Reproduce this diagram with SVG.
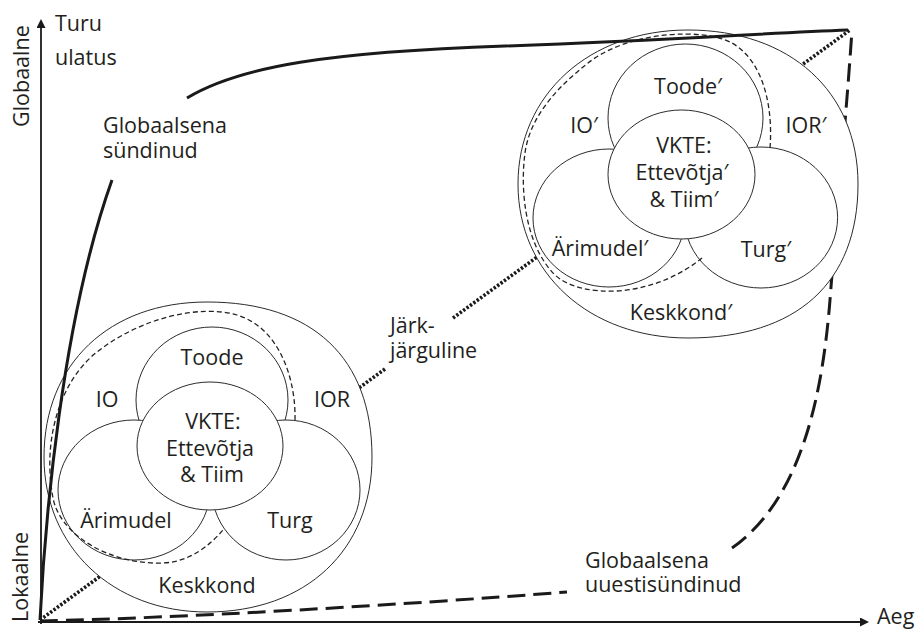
<svg xmlns="http://www.w3.org/2000/svg" width="921" height="630" viewBox="0 0 921 630">
  <defs>
    <style>
      .t { font-family: "Open Sans", "Noto Sans", sans-serif; font-size: 21.5px; fill: #231f20; }
      .m { text-anchor: middle; }
      .c { fill: #fff; stroke: #2b2b2b; stroke-width: 1; }
      .dl { fill: none; stroke: #222; stroke-width: 1.3; stroke-dasharray: 5 3; }
      .axis { fill: none; stroke: #1a1a1a; stroke-width: 1.8; }
      .thick { fill: none; stroke: #1a1a1a; stroke-width: 3; }
      .dash { stroke-dasharray: 18 8; }
      .dot { stroke-dasharray: 2.4 1.8; stroke-width: 3.6; }
    </style>
    <marker id="arrow" viewBox="0 0 10 10" refX="0" refY="5" markerWidth="10" markerHeight="9" markerUnits="userSpaceOnUse" orient="auto">
      <path d="M0,0 L10,5 L0,10 Z" fill="#1a1a1a"/>
    </marker>
  </defs>
  <rect width="921" height="630" fill="#fff"/>

  <!-- axes -->
  <g id="axes">
    <line class="axis" x1="41" y1="624" x2="41" y2="28" marker-end="url(#arrow)"/>
    <line class="axis" x1="38" y1="622" x2="860" y2="622" marker-end="url(#arrow)"/>
    <text class="t" transform="translate(29,127) rotate(-90)">Globaalne</text>
    <text class="t" transform="translate(28,622) rotate(-90)">Lokaalne</text>
    <text class="t" x="55" y="31">Turu</text>
    <text class="t" x="55" y="65">ulatus</text>
    <text class="t" x="877" y="624">Aeg</text>
  </g>

  <!-- growth paths lying beneath the clusters -->
  <g id="connectors-under">
    <!-- gradual (step by step) path -->
    <path class="thick dot" d="M40,620 L385,369"/>
    <path class="thick dot" d="M453,318 L850,30"/>
    <!-- born-again global path -->
    <path class="thick dash" d="M40,621 C180,618 400,605 567,592"/>
    <path class="thick dash" d="M732,548 C800,500 822,400 830,300 C836,220 846,120 852,30"/>
  </g>

  <!-- local cluster -->
  <g id="cluster-local">
    <path class="c" d="M207,302 C312.6,302 372,357.8 372,457 C372,550 306,612 207,612 C112.5,612 44,546.9 44,457 C44,364 109.2,302 207,302 Z"/>
    <ellipse class="c" cx="212" cy="400" rx="76" ry="73"/>
    <ellipse class="c" cx="134" cy="490" rx="76" ry="70"/>
    <ellipse class="c" cx="286" cy="490" rx="74" ry="70"/>
    <ellipse class="c" cx="210" cy="446" rx="73" ry="64"/>
    <path class="dl" d="M295,420 C296,380 280,328 237,315 C200,304 140,318 97,352 C60,381 42,440 53,498 C60,535 110,565 163,563 C190,562 210,545 223,530"/>
    <text class="t m" x="212" y="365">Toode</text>
    <text class="t m" x="107" y="407">IO</text>
    <text class="t m" x="332" y="407">IOR</text>
    <text class="t m"><tspan x="213" y="429">VKTE:</tspan><tspan x="210" y="456">Ettevõtja</tspan><tspan x="212" y="482">&amp; Tiim</tspan></text>
    <text class="t m" x="126" y="528">Ärimudel</text>
    <text class="t m" x="290" y="528">Turg</text>
    <text class="t m" x="207" y="593">Keskkond</text>
  </g>

  <!-- global cluster -->
  <g id="cluster-global">
    <path class="c" d="M688,30 C790,30 858,91.6 858,184 C858,282.6 796.8,338 688,338 C589.4,338 518,273.3 518,184 C518,94.7 589.4,30 688,30 Z"/>
    <ellipse class="c" cx="685.5" cy="118" rx="77.5" ry="74"/>
    <ellipse class="c" cx="609" cy="218" rx="76" ry="69"/>
    <ellipse class="c" cx="761" cy="217.5" rx="76.6" ry="70.5"/>
    <ellipse class="c" cx="681.5" cy="174.5" rx="73.5" ry="64.5"/>
    <path class="dl" d="M770,148 C773,110 765,62 732,43 C705,28 630,30 588,63 C560,85 530,115 525,153 C520,190 525,245 555,275 C580,298 650,300 702,258"/>
    <text class="t m" x="688" y="94">Toode′</text>
    <text class="t m" x="584" y="133">IO′</text>
    <text class="t m" x="806" y="133">IOR′</text>
    <text class="t m"><tspan x="684" y="153">VKTE:</tspan><tspan x="682" y="180">Ettevõtja′</tspan><tspan x="684" y="207">&amp; Tiim′</tspan></text>
    <text class="t m" x="600" y="256">Ärimudel′</text>
    <text class="t m" x="766" y="257">Turg′</text>
    <text class="t m" x="681" y="320">Keskkond′</text>
  </g>

  <!-- born-global path, drawn over the clusters -->
  <g id="connectors-over">
    <path class="thick" d="M40,620 C45,520 62,320 112,180"/>
    <path class="thick" d="M187,98 C240,66 330,52 505,46 S760,33 848,30"/>
  </g>

  <!-- path labels -->
  <g id="path-labels">
    <text class="t"><tspan x="103" y="133">Globaalsena</tspan><tspan x="103" y="158">sündinud</tspan></text>
    <text class="t"><tspan x="390" y="333">Järk-</tspan><tspan x="390" y="358">järguline</tspan></text>
    <text class="t"><tspan x="585" y="568">Globaalsena</tspan><tspan x="585" y="592">uuestisündinud</tspan></text>
  </g>
</svg>
